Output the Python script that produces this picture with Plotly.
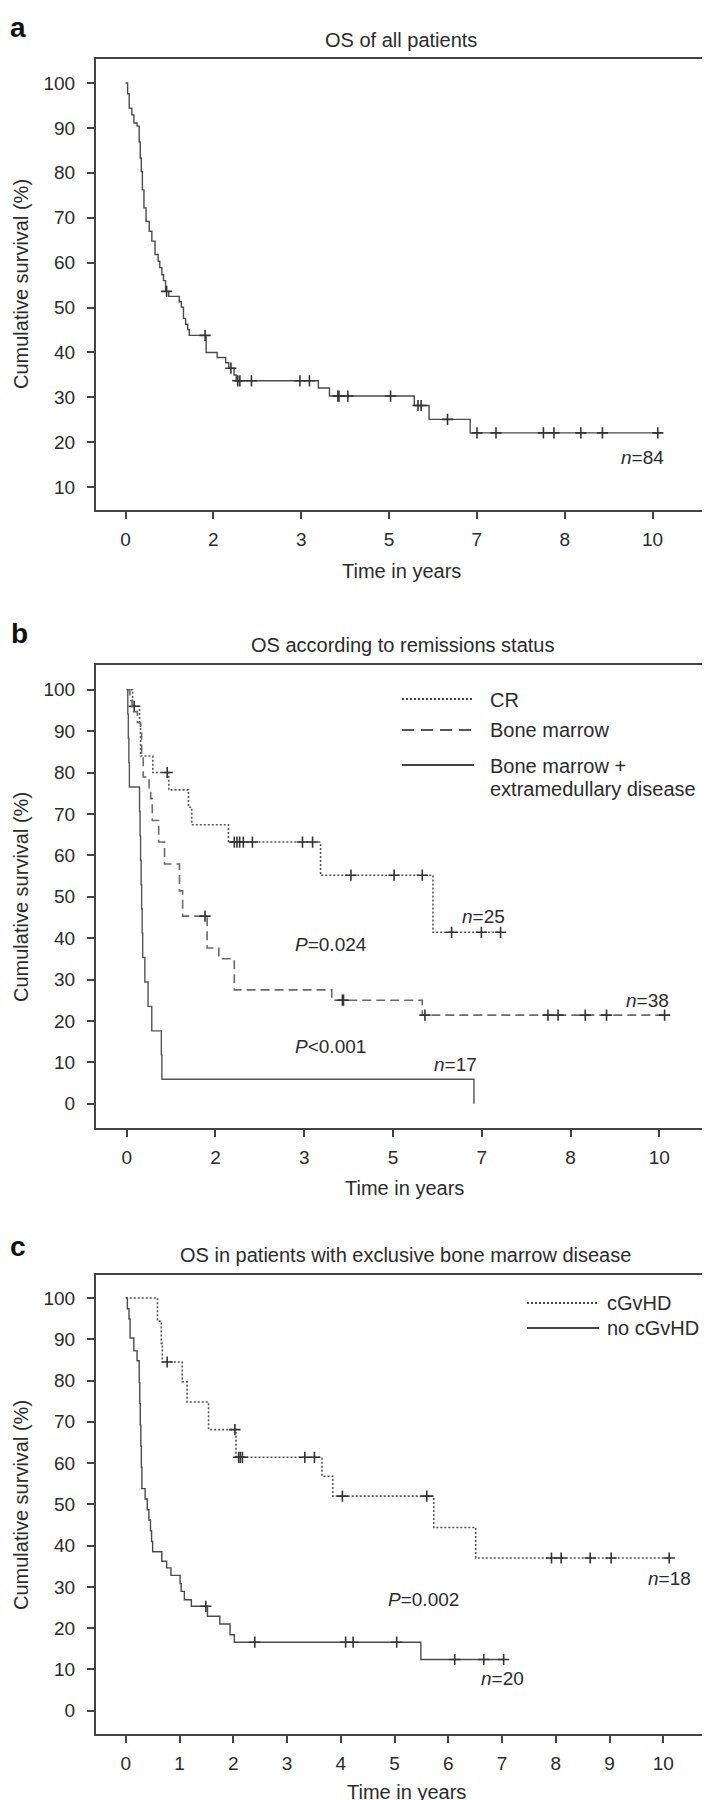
import numpy as np
import plotly.graph_objects as go

# ---------------- data ----------------
# Panel a: OS of all patients
a_time = [0, 0.04, 0.07, 0.12, 0.16, 0.22, 0.26, 0.28, 0.30, 0.32, 0.35, 0.39, 0.45, 0.50,
          0.56, 0.62, 0.65, 0.69, 0.72, 0.76, 0.82, 1.02, 1.06, 1.10, 1.14, 1.18, 1.21, 1.53,
          1.74, 1.90, 1.96, 2.06, 2.10, 3.66, 3.87, 5.48, 5.76, 6.54, 10.10]
a_surv = [100, 97.6, 94.4, 92.9, 91.1, 90.4, 86.9, 83.3, 80.3, 76.2, 72.2, 69.2, 67.0, 64.8,
          61.8, 60.3, 58.9, 57.3, 56.0, 53.6, 52.5, 51.3, 50.1, 47.6, 46.3, 45.1, 43.8, 40.0,
          38.9, 37.7, 36.5, 35.0, 33.7, 32.1, 30.3, 28.2, 25.1, 22.1, 22.1]
a_cens = [0.78, 1.51, 2.00, 2.13, 2.17, 2.39, 3.31, 3.49, 4.03, 4.05, 4.22, 5.03, 5.55, 5.61,
          6.11, 6.67, 7.03, 7.93, 8.13, 8.64, 9.05, 10.10]

# Panel b: OS according to remission status
cr_time = [0, 0.11, 0.24, 0.26, 0.49, 0.79, 1.16, 1.22, 1.91, 3.64, 5.75, 7.02]
cr_surv = [100, 96.0, 92.0, 84.0, 80.0, 75.8, 71.6, 67.4, 63.2, 55.2, 41.4, 41.4]
cr_cens = [0.14, 0.76, 2.02, 2.07, 2.12, 2.19, 2.36, 3.30, 3.49, 4.21, 5.02, 5.55, 6.10, 6.66, 7.02]

bm_time = [0, 0.06, 0.10, 0.20, 0.26, 0.28, 0.31, 0.42, 0.45, 0.48, 0.60, 0.71, 0.99, 1.05,
           1.51, 1.73, 2.02, 3.85, 5.55, 10.10]
bm_surv = [100, 97.4, 94.7, 92.1, 89.5, 84.2, 78.9, 76.3, 73.7, 68.4, 63.2, 57.9, 51.4, 45.3,
           37.6, 35.0, 27.5, 25.0, 21.4, 21.4]
bm_cens = [1.47, 4.05, 4.07, 5.60, 7.91, 8.10, 8.61, 9.01, 10.10]

bme_time = [0, 0.02, 0.03, 0.04, 0.05, 0.24, 0.25, 0.26, 0.27, 0.28, 0.29, 0.30, 0.34, 0.40,
            0.47, 0.65, 0.66, 6.52]
bme_surv = [100, 94.1, 88.2, 82.4, 76.5, 70.6, 64.7, 58.8, 52.9, 47.1, 41.2, 35.3, 29.4, 23.5,
            17.6, 11.8, 5.9, 0]

# Panel c: exclusive bone marrow disease
gv_time = [0, 0.59, 0.66, 0.68, 1.05, 1.14, 1.54, 2.05, 3.65, 3.85, 5.73, 6.51, 10.11]
gv_surv = [100, 94.4, 89.0, 84.5, 79.7, 74.8, 68.1, 61.4, 56.8, 52.0, 44.4, 37.0, 37.0]
gv_cens = [0.77, 2.03, 2.10, 2.13, 2.17, 3.33, 3.51, 4.03, 5.60, 7.92, 8.10, 8.64, 9.03, 10.11]

ngv_time = [0, 0.03, 0.06, 0.08, 0.15, 0.21, 0.25, 0.26, 0.27, 0.28, 0.29, 0.30, 0.36, 0.40,
            0.43, 0.46, 0.48, 0.50, 0.67, 0.76, 0.84, 1.01, 1.03, 1.09, 1.22, 1.52, 1.75, 1.94,
            2.02, 5.49, 7.03]
ngv_surv = [100, 97.4, 94.9, 90.3, 87.2, 84.8, 79.5, 74.4, 69.2, 64.1, 59.0, 53.8, 51.3, 48.7,
            46.2, 43.6, 41.0, 38.5, 36.2, 34.6, 32.8, 30.8, 28.9, 26.9, 25.3, 22.9, 21.0, 18.4,
            16.6, 12.4, 12.4]
ngv_cens = [1.49, 2.40, 4.09, 4.23, 5.04, 6.12, 6.66, 7.03]

ab_tick_text = ["0", "2", "3", "5", "7", "8", "10"]
c_tick_text = [str(v) for v in range(0, 11)]
a_ytick = list(range(10, 101, 10))
bc_ytick = list(range(0, 101, 10))

# ---------------- helpers ----------------
W, H = 710, 1800
FONT = "Liberation Sans, Arial, sans-serif"
TXT = "#2b2b2b"


def px(x):
    return x / W


def py(y):
    return 1 - y / H


def step_at(times, survs, t):
    idx = np.searchsorted(np.asarray(times), np.asarray(t), side="right") - 1
    return list(np.asarray(survs)[idx])


fig = go.Figure()


def curve(xa, ya, t, s, color, dash, width=1.5):
    fig.add_trace(go.Scatter(x=t, y=s, mode="lines", line=dict(shape="hv", color=color, dash=dash, width=width),
                             xaxis=xa, yaxis=ya, showlegend=False, hoverinfo="skip"))


def cens(xa, ya, t, times, survs):
    fig.add_trace(go.Scatter(x=t, y=step_at(times, survs, t), mode="markers",
                             marker=dict(symbol="cross-thin", size=8, line=dict(width=1.6, color="#333")),
                             xaxis=xa, yaxis=ya, showlegend=False, hoverinfo="skip"))


DOT = "2px,2px"
DASH = "9px,5px"

# panel a
curve("x", "y", a_time, a_surv, "#4a4a4a", "solid", 1.4)
cens("x", "y", a_cens, a_time, a_surv)
# panel b
curve("x2", "y2", cr_time, cr_surv, "#555", DOT, 1.6)
cens("x2", "y2", cr_cens, cr_time, cr_surv)
curve("x2", "y2", bm_time, bm_surv, "#6a6a6a", DASH, 1.6)
cens("x2", "y2", bm_cens, bm_time, bm_surv)
curve("x2", "y2", bme_time, bme_surv, "#555", "solid", 1.4)
# panel c
curve("x3", "y3", gv_time, gv_surv, "#555", DOT, 1.6)
cens("x3", "y3", gv_cens, gv_time, gv_surv)
curve("x3", "y3", ngv_time, ngv_surv, "#4a4a4a", "solid", 1.4)
cens("x3", "y3", ngv_cens, ngv_time, ngv_surv)

axis_common = dict(showline=True, mirror=True, linecolor="#444", linewidth=2, showgrid=False,
                   zeroline=False, ticks="outside", ticklen=7, tickwidth=1.5, tickcolor="#444",
                   tickfont=dict(family=FONT, size=19, color=TXT))

ab_vals = list(np.linspace(0, 10, len(ab_tick_text)))

fig.update_layout(
    width=W, height=H, margin=dict(l=0, r=0, t=0, b=0),
    paper_bgcolor="white", plot_bgcolor="white",
    xaxis=dict(domain=[px(88), px(698)], range=[-0.56, 11.015], tickvals=ab_vals, ticktext=ab_tick_text,
               anchor="y", ticklabelstandoff=4, **axis_common),
    yaxis=dict(domain=[py(501.7), py(51)], range=[5.0, 105.34], tickvals=a_ytick, anchor="x",
               ticklabelstandoff=8, **axis_common),
    xaxis2=dict(domain=[px(88), px(703.3)], range=[-0.577, 10.977], tickvals=ab_vals, ticktext=ab_tick_text,
                anchor="y2", ticklabelstandoff=4, **axis_common),
    yaxis2=dict(domain=[py(1120), py(657.3)], range=[-5.87, 105.9], tickvals=bc_ytick, anchor="x2",
                ticklabelstandoff=8, **axis_common),
    xaxis3=dict(domain=[px(88), px(708.5)], range=[-0.554, 10.99], tickvals=list(range(0, 11)),
                ticktext=c_tick_text, anchor="y3", ticklabelstandoff=4, **axis_common),
    yaxis3=dict(domain=[py(1726), py(1266.7)], range=[-5.65, 105.65], tickvals=bc_ytick, anchor="x3",
                ticklabelstandoff=8, **axis_common),
)

ann = []


def text(x, y, s, size=20, xanchor="center", angle=0, bold=False):
    ann.append(dict(x=px(x), y=py(y), xref="paper", yref="paper", text=s, showarrow=False,
                    xanchor=xanchor, yanchor="middle", textangle=angle,
                    font=dict(family=FONT, size=size, color="#111" if bold else TXT)))


# panel labels
text(10, 20, "<b>a</b>", 28, bold=True)
text(11, 625, "<b>b</b>", 28, bold=True)
text(10, 1238, "<b>c</b>", 28, bold=True)
# titles
text(393, 32, "OS of all patients")
text(394, 637, "OS according to remissions status")
text(397.6, 1247, "OS in patients with exclusive bone marrow disease")
# x titles
text(393, 563, "Time in years")
text(396, 1180, "Time in years")
text(398.5, 1784, "Time in years")
# y titles
text(13, 276, "Cumulative survival (%)", angle=-90)
text(13, 889, "Cumulative survival (%)", angle=-90)
text(13, 1497, "Cumulative survival (%)", angle=-90)
# n / P labels
text(634, 449, "<i>n</i>=84", 19)
text(475, 908, "<i>n</i>=25", 19)
text(639, 992, "<i>n</i>=38", 19)
text(447, 1056, "<i>n</i>=17", 19)
text(323, 936, "<i>P</i>=0.024", 19)
text(322, 1038, "<i>P</i><0.001", 19)
text(661, 1570, "<i>n</i>=18", 19)
text(495, 1670, "<i>n</i>=20", 19)
text(415, 1591, "<i>P</i>=0.002", 19)
# legend texts
text(480, 692, "CR", xanchor="left")
text(480, 722, "Bone marrow", xanchor="left")
text(480, 758, "Bone marrow +", xanchor="left")
text(480, 781, "extramedullary disease", xanchor="left")
text(597, 1295, "cGvHD", xanchor="left")
text(597, 1320, "no cGvHD", xanchor="left")
fig.update_layout(annotations=ann)

shapes = []


def legline(x0, x1, y, dash, color):
    shapes.append(dict(type="line", xref="paper", yref="paper", x0=px(x0), x1=px(x1), y0=py(y), y1=py(y),
                       line=dict(color=color, width=1.8, dash=dash)))


legline(394, 466, 691, DOT, "#444")
legline(394, 466, 722, "12px,7px", "#555")
legline(394, 466, 757, "solid", "#444")
legline(519, 591, 1295, DOT, "#444")
legline(519, 591, 1320, "solid", "#444")
fig.update_layout(shapes=shapes)

fig.write_html("out.html")
